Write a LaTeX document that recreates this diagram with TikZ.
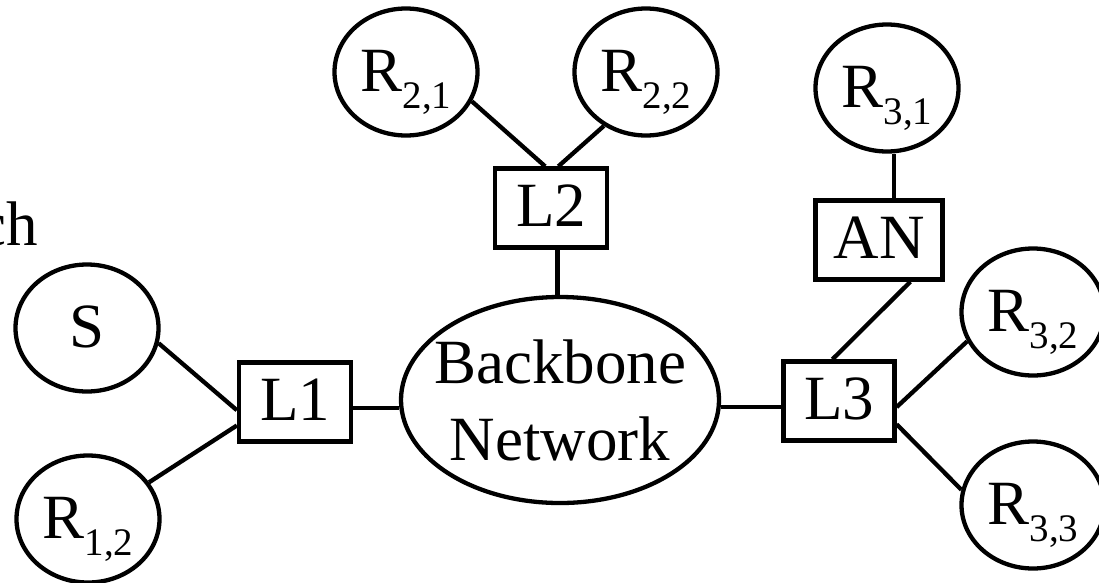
\documentclass[tikz,border=0pt]{standalone}
\usepackage{fontspec}
\setmainfont{Liberation Serif}
\usetikzlibrary{shapes.geometric}
\newcommand{\subidx}[1]{\raisebox{-17pt}{\fontsize{39}{39}\selectfont #1}}
\tikzset{
  every node/.style={font=\fontsize{63}{77}\selectfont, inner sep=0pt},
  host/.style={draw, ellipse, line width=4.3pt, minimum width=143pt, minimum height=127pt,
               text height=44pt, text depth=6pt},
  relay/.style={draw, rectangle, line width=4.3pt, minimum height=79pt,
                text height=42pt, text depth=6pt},
  link/.style={line width=4.3pt}
}
\begin{document}
\begin{tikzpicture}[x=1pt, y=-1pt]
\useasboundingbox (0,0) rectangle (1099,582);

% partial word at the left edge
\node[anchor=base west] (cut) at (-22,245) {ch};

% hosts and relays
\node[host] (S)   at (87,328)  {S};
\node[host] (R12) at (88,519)  {R\subidx{1,2}};
\node[relay, minimum width=112pt] (L1) at (295,402) {L1};

% the backbone: text nearly touches the outline, so the shape is sized by hand
\node[draw, ellipse, line width=4.3pt, inner xsep=-20pt, inner ysep=0pt,
      minimum width=318pt, minimum height=206pt, align=center]
      (BB) at (560,400) {Backbone\\Network};

\node[relay, minimum width=112pt] (L2) at (551,208) {L2};
\node[host] (R21) at (406,72) {R\subidx{2,1}};
\node[host] (R22) at (646,72) {R\subidx{2,2}};

\node[host] (R31) at (887,88) {R\subidx{3,1}};
\node[relay, minimum width=127pt] (AN) at (879,240) {AN};
\node[relay, minimum width=111pt] (L3) at (839,401) {L3};
\node[host] (R32) at (1033,312) {R\subidx{3,2}};
\node[host] (R33) at (1033,505) {R\subidx{3,3}};

% links
\draw[link] (S.-12) -- (L1.188);
\draw[link] (R12.31) -- (L1.202);
\draw[link] (L1.354) -- (L1.354 -| BB.west);
\draw[link] (L2.-81.5) -- (L2.-81.5 |- BB.north);
\draw[link] (R21.-24) -- (L2.98.5);
\draw[link] (R22.232) -- (L2.80);
\draw[link] (AN.70.5) -- (AN.70.5 |- R31.south);
\draw[link] (AN.-53) -- (L3.99.5);
\draw[link] (L3.186) -- (L3.186 -| BB.east);
\draw[link] (L3.-6) -- (R32.204);
\draw[link] (L3.-22.5) -- (R33.168);
\end{tikzpicture}
\end{document}
